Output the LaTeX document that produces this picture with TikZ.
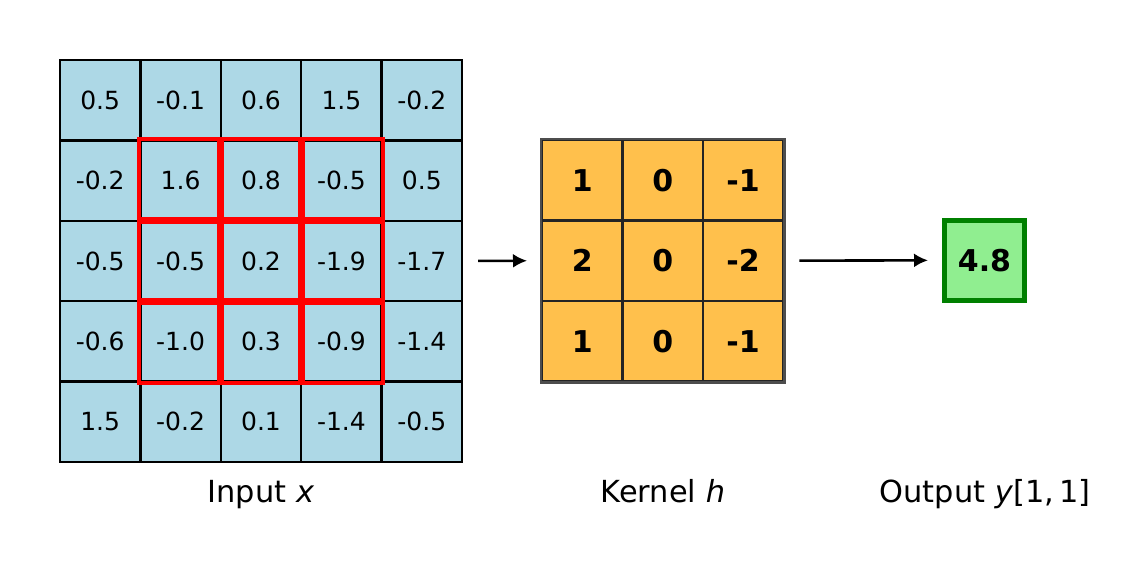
\documentclass[tikz,border=0pt]{standalone}
\usepackage{fontspec}
\setmainfont{DejaVu Sans}
\usetikzlibrary{arrows.meta}
\definecolor{inblue}{HTML}{ADD8E6}
\definecolor{kor}{HTML}{FFC04C}
\definecolor{kedge}{HTML}{4D4D4D}
\definecolor{kin}{HTML}{242424}
\definecolor{outg}{HTML}{90EE90}
\definecolor{outedge}{HTML}{008000}
\tikzset{
  incell/.style={draw=black, line width=1.15pt, fill=inblue, minimum size=40.2pt, inner sep=0pt, font=\fontsize{12.5}{14}\selectfont},
  kcell/.style={draw=kin, line width=1.1pt, fill=kor, minimum size=40.2pt, inner sep=0pt, font=\fontsize{15}{17}\selectfont\bfseries},
  outcell/.style={draw=outedge, line width=2.5pt, fill=outg, minimum size=40pt, inner sep=0pt, font=\fontsize{15}{17}\selectfont\bfseries},
  win/.style={draw=red, line width=2.2pt},
  flow/.style={-{Latex[length=7pt,width=7pt]}, line width=1.3pt, shorten <=7.5pt, shorten >=7pt},
  lab/.style={font=\fontsize{15.2}{18}\selectfont, inner sep=0pt, anchor=base}
}
\begin{document}
\begin{tikzpicture}[x=0.5pt,y=-0.5pt]
\useasboundingbox (0,0) rectangle (1124,562);
% input grid
\foreach \r/\row in {0/{0.5,-0.1,0.6,1.5,-0.2},1/{-0.2,1.6,0.8,-0.5,0.5},2/{-0.5,-0.5,0.2,-1.9,-1.7},3/{-0.6,-1.0,0.3,-0.9,-1.4},4/{1.5,-0.2,0.1,-1.4,-0.5}}{
  \foreach \v [count=\c from 0] in \row {
    \node[incell] (in-\r-\c) at ({100.2+80.4*\c},{100.2+80.4*\r}) {\v};
  }
}
% red window
\foreach \r in {1,2,3}{
  \foreach \c in {1,2,3}{
    \draw[win] (in-\r-\c.north west) rectangle (in-\r-\c.south east);
  }
}
% kernel
\foreach \r/\row in {0/{1,0,-1},1/{2,0,-2},2/{1,0,-1}}{
  \foreach \v [count=\c from 0] in \row {
    \node[kcell] (k-\r-\c) at ({582.3+80.4*\c},{180.3+80.4*\r}) {\v};
  }
}
\draw[kedge, line width=1.1pt] (k-0-0.north west) rectangle (k-2-2.south east);
% output
\node[outcell] (out) at (984.5,260.3) {4.8};
% arrows
\draw[flow] (in-2-4.east) -- (k-1-0.west);
\draw[flow] (k-1-2.east) -- (out.west);
% labels
\node[lab] (lin) at (261,502) {Input \textit{x}};
\node[lab] (lk) at (663,502) {Kernel \textit{h}};
\node[lab] (lo) at (985,502) {Output \textit{y}[1,\,1]};
\end{tikzpicture}
\end{document}
